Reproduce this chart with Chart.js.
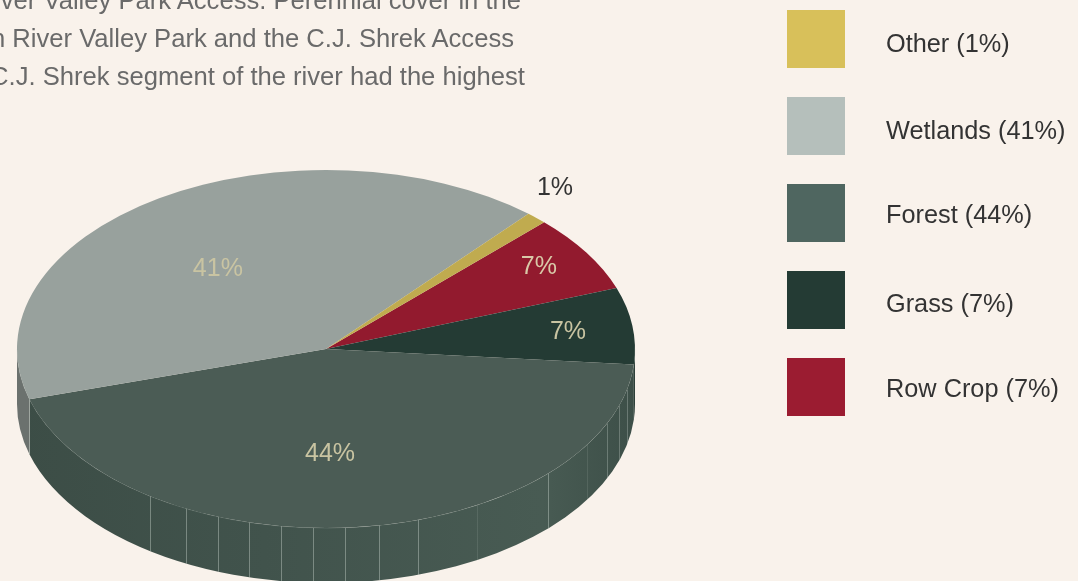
<!DOCTYPE html>
<html><head><meta charset="utf-8">
<script src="https://cdn.jsdelivr.net/npm/chart.js@4"></script>
<style>
html,body{margin:0;padding:0;width:1078px;height:581px;overflow:hidden;background:#f9f2eb;}
body{position:relative;font-family:"Liberation Sans",sans-serif;}
canvas{position:absolute;left:0;top:0;}
.para{position:absolute;white-space:nowrap;font-size:25.6px;line-height:38px;color:#6a6a6a;text-align:right;}
.sw{position:absolute;left:787px;width:58px;height:58px;}
.lb{position:absolute;left:886px;white-space:nowrap;font-size:25.3px;line-height:30px;color:#333;}
</style></head><body>
<canvas id="c" width="1078" height="581"></canvas>
<div id="overlay"></div>
<script>
const categories = ["Other","Wetlands","Forest","Grass","Row Crop"];
const values = [1.1,40.9,44.1,6.9,7.0];
const percentLabels = ["1%","41%","44%","7%","7%"];
const sliceColors = ["#c0ab4f","#98a19d","#4b5c55","#243b34","#921a2e"];
const legendColors = ["#d8c05a","#b5bfbb","#4f6660","#243b34","#9b1c31"];
const wallColors = ["#8a7b3a","#6b716e","#43564f","#2c3f38","#6d1322"];
const labelColors = ["#333333","#c9c4a2","#c9c4a2","#c9c4a2","#d9c9a8"];
const paragraphLines = ["iver Valley Park Access. Perennial cover in the","n River Valley Park and the C.J. Shrek Access","C.J. Shrek segment of the river had the highest"];
const paragraphRight = [521,514,525];
const legendTop = [28,115,199,288,373];
const swatchTop = [10,97,184,271,358];
// label placement as fractions of the x / y pie radii from pie centre
const labelFx = [0.741,-0.350,0.013,0.783,0.689];
const labelFy = [-0.906,-0.456,0.578,-0.103,-0.467];
// wall facet edges, degrees from straight down, and their strength
const facetDeg = [-34.8,-26.9,-20.5,-14.4,-8.4,-2.4,3.5,9.9,17.3,29.3,45.9,57.7,65.4,71.5,76.9];
const facetAlpha = [.4,.4,.4,.4,.4,.4,.4,.4,.4,.12,.4,.12,.3,.3,.3];

const RX = 309, DEPTH = 55;

const overlay = document.getElementById('overlay');
function add(cls, css, txt){const d=document.createElement('div');d.className=cls;d.style.cssText=css;if(txt)d.textContent=txt;overlay.appendChild(d);}
paragraphLines.forEach((t,i)=>add('para',`right:${1078-paragraphRight[i]}px;top:${-19+38*i}px`,t));
categories.forEach((c,i)=>{
  add('sw',`top:${swatchTop[i]}px;background:${legendColors[i]}`);
  add('lb',`top:${legendTop[i]}px`,`${c} (${percentLabels[i]})`);
});

const rev = a => a.slice().reverse();
const deg = Math.PI/180;

const pie3d = {
  id:'pie3d',
  beforeDatasetsDraw(chart){
    const ctx = chart.ctx, arcs = chart.getDatasetMeta(0).data;
    const a0 = arcs[0], cx = a0.x, cy = a0.y, R = a0.outerRadius, sx = RX/R;
    const wc = rev(wallColors);
    const ell = (y,s,e,acw)=>ctx.ellipse(cx,y,RX,R,0,s,e,acw);
    arcs.forEach((el,i)=>{
      const {startAngle:s0,endAngle:e0} = el.getProps(['startAngle','endAngle']);
      const s = Math.max(s0,0), e = Math.min(e0,Math.PI);
      if(e<=s) return;
      ctx.beginPath(); ell(cy,s,e,false); ell(cy+DEPTH,e,s,true); ctx.closePath();
      if(wc[i]==="#43564f"){
        const g = ctx.createLinearGradient(cx-RX,0,cx+RX,0);
        g.addColorStop(0,'#3c4d46');g.addColorStop(.4,'#41534c');g.addColorStop(.85,'#485b53');g.addColorStop(1,'#3d4f48');
        ctx.fillStyle=g;
      } else ctx.fillStyle = wc[i];
      ctx.fill();
      ctx.beginPath(); ell(cy,s,e,false);
      ctx.strokeStyle='rgba(205,215,208,.3)'; ctx.lineWidth=.6; ctx.stroke();
    });
    facetDeg.forEach((d,i)=>{
      const x = cx+RX*Math.sin(d*deg), y = cy+R*Math.cos(d*deg);
      ctx.beginPath(); ctx.moveTo(Math.round(x)+.5,y); ctx.lineTo(Math.round(x)+.5,y+DEPTH);
      ctx.strokeStyle=`rgba(210,220,212,${facetAlpha[i]})`; ctx.lineWidth=1; ctx.stroke();
    });
    const seam = arcs[2].getProps(['endAngle']).endAngle;
    const sxp = cx+RX*Math.cos(seam), syp = cy+R*Math.sin(seam);
    ctx.beginPath(); ctx.moveTo(Math.round(sxp)+.5,syp); ctx.lineTo(Math.round(sxp)+.5,syp+DEPTH);
    ctx.strokeStyle='rgba(210,220,212,.4)'; ctx.stroke();
    ctx.save();
    ctx.translate(cx,cy); ctx.scale(sx,1); ctx.translate(-cx,-cy);
  },
  afterDatasetsDraw(chart){
    const ctx = chart.ctx; ctx.restore();
    const arcs = chart.getDatasetMeta(0).data, a0 = arcs[0];
    ctx.save();
    ctx.font = '25px "Liberation Sans", sans-serif';
    ctx.textAlign='center'; ctx.textBaseline='middle';
    percentLabels.forEach((t,i)=>{
      ctx.fillStyle = labelColors[i];
      ctx.fillText(t, a0.x+RX*labelFx[i], a0.y+a0.outerRadius*labelFy[i]+1.5);
    });
    ctx.restore();
  }
};

new Chart(document.getElementById('c'),{
  type:'pie',
  data:{labels:rev(categories),datasets:[{data:rev(values),backgroundColor:rev(sliceColors),borderWidth:0,clip:false}]},
  options:{
    responsive:false,animation:false,rotation:44.9,
    layout:{padding:{left:0,right:426,top:170,bottom:53}},
    plugins:{legend:{display:false},tooltip:{enabled:false}}
  },
  plugins:[pie3d]
});
</script>
</body></html>
